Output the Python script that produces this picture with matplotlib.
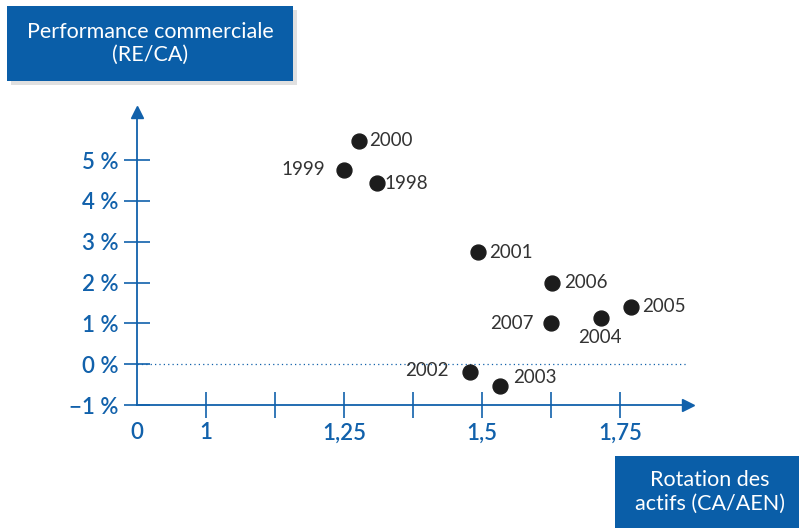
import matplotlib.pyplot as plt
from matplotlib.patches import Rectangle

# rotation des actifs (CA/AEN) et performance commerciale (RE/CA, en %)
years = ['1998', '1999', '2000', '2001', '2002', '2003', '2004', '2005', '2006', '2007']
rotation = [1.310, 1.250, 1.278, 1.492, 1.478, 1.533, 1.716, 1.770, 1.626, 1.624]
performance = [4.43, 4.76, 5.47, 2.74, -0.18, -0.53, 1.12, 1.41, 2.00, 1.00]

# label offsets in points (dx, dy) and alignment
label_pos = {
    '1998': (5, 0, 'left'), '1999': (-14, 0, 'right'), '2000': (7, 0, 'left'),
    '2001': (8, 0, 'left'), '2002': (-15, 1, 'right'), '2003': (9, 6, 'left'),
    '2004': (-1, -14, 'center'), '2005': (8, 0, 'left'), '2006': (9, 0, 'left'),
    '2007': (-12, 0, 'right'),
}

x_ticks = [1.0, 1.125, 1.25, 1.375, 1.5, 1.625, 1.75]
x_labels = ['1', '', '1,25', '', '1,5', '', '1,75']
y_ticks = [-1, 0, 1, 2, 3, 4, 5]
y_labels = ['\u22121 %', '0 %', '1 %', '2 %', '3 %', '4 %', '5 %']

blue = '#1161ab'
box_blue = '#0a5ea8'
plt.rcParams['font.family'] = ['Lato', 'DejaVu Sans']

fig = plt.figure(figsize=(7.99, 5.28), dpi=100)
ax = fig.add_axes([137 / 799, 1 - 405 / 528, 551 / 799, 293 / 528])
x0, x1 = 0.875, 1.873
y0, y1 = -1, 6.18
ax.set_xlim(x0, x1)
ax.set_ylim(y0, y1)

for s in ['top', 'right']:
    ax.spines[s].set_visible(False)
for s in ['left', 'bottom']:
    ax.spines[s].set_color(blue)
    ax.spines[s].set_linewidth(1.3)

# arrow heads
ax.plot(1, 0, '>', color=blue, ms=9, transform=ax.transAxes, clip_on=False)
ax.plot(0, 1, '^', color=blue, ms=9, transform=ax.transAxes, clip_on=False)

ax.axhline(0, color=blue, lw=0.9, ls=(0, (1, 2.5)))

tick_font = dict(fontsize=16, fontweight='semibold')
ax.set_xticks(x_ticks)
ax.set_xticklabels(x_labels, **tick_font)
ax.set_yticks(y_ticks)
ax.set_yticklabels(y_labels, **tick_font)
ax.tick_params(axis='both', direction='inout', length=19, width=1.2, color=blue,
               labelcolor=blue)
ax.tick_params(axis='x', pad=3)
ax.tick_params(axis='y', pad=4)
ax.annotate('0', (x0, y0), xytext=(0, -12.5), textcoords='offset points',
            color=blue, ha='center', va='top', **tick_font)

ax.scatter(rotation, performance, s=115, color='#1c1c1c', zorder=3, clip_on=False)
for yr, xv, yv in zip(years, rotation, performance):
    dx, dy, ha = label_pos[yr]
    ax.annotate(yr, (xv, yv), xytext=(dx, dy), textcoords='offset points',
                ha=ha, va='center', fontsize=13.5, color='#333333')

# title boxes
def label_box(x, y, w, h, lines):
    fig.patches.append(Rectangle(((x + 4) / 799, 1 - (y + h + 4) / 528), w / 799, h / 528,
                                 transform=fig.transFigure, color='#000000', alpha=0.12,
                                 lw=0, zorder=1))
    fig.patches.append(Rectangle((x / 799, 1 - (y + h) / 528), w / 799, h / 528,
                                 transform=fig.transFigure, color=box_blue, lw=0, zorder=2))
    fig.text((x + w / 2) / 799, 1 - (y + h / 2) / 528, lines, color='white',
             fontsize=15.5, ha='center', va='center', linespacing=1.2, zorder=3)

label_box(7, 6, 286, 75, 'Performance commerciale\n(RE/CA)')
label_box(615, 456, 190, 72, 'Rotation des\nactifs (CA/AEN)')

fig.savefig('out.png', dpi=100)
